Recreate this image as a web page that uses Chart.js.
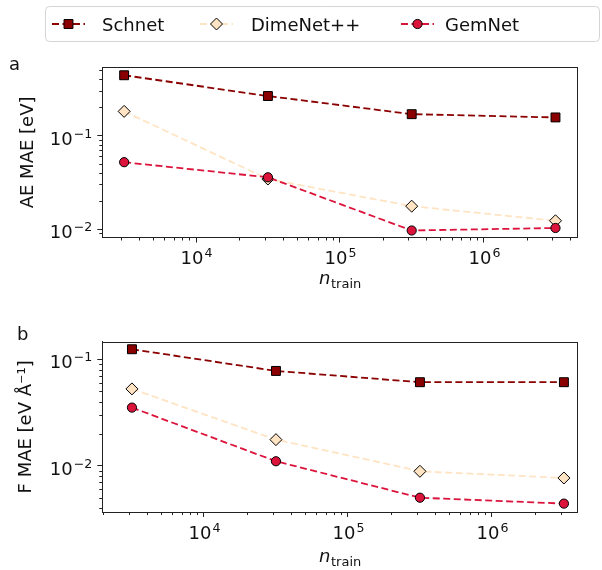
<!DOCTYPE html>
<html>
<head>
<meta charset="utf-8">
<title>MAE vs n_train</title>
<script src="https://cdn.jsdelivr.net/npm/chart.js@4/dist/chart.umd.min.js"></script>
<style>
    body { margin: 0; background: #fff; }
    #wrap { position: relative; width: 602px; height: 570px; }
    #chart-a { position: absolute; left: 0; top: 0; }
    #chart-b { position: absolute; left: 0; top: 300px; }
</style>
</head>
<body>
<div id="wrap">
    <canvas id="chart-a" width="602" height="300"></canvas>
    <canvas id="chart-b" width="602" height="270"></canvas>
</div>
<script>
// training set sizes
const nTrain = [3162, 31623, 316228, 3162278];
const modelNames = ['Schnet', 'DimeNet++', 'GemNet'];

// panel a: AE MAE [eV]
const aeSchnet = [0.44, 0.264, 0.169, 0.156];
const aeDimeNet = [0.181, 0.0343, 0.0176, 0.0123];
const aeGemNet = [0.0519, 0.0358, 0.00968, 0.0103];

// panel b: F MAE [eV/Å]
const fSchnet = [0.124, 0.0776, 0.0608, 0.0608];
const fDimeNet = [0.0526, 0.01755, 0.00885, 0.00766];
const fGemNet = [0.0351, 0.011, 0.0050, 0.0044];

const FONT = 'DejaVu Sans';
const TEXT_COLOR = '#111';

// marker / line look per model
const modelStyles = [
    { color: '#8b0000', fill: '#8b0000', pointStyle: 'rect', radius: 6.3, order: 3 },
    { color: '#ffe4c4', fill: '#ffe4c4', pointStyle: 'rectRot', radius: 6, order: 2 },
    { color: '#dc143c', fill: '#dc143c', pointStyle: 'circle', radius: 4.6, order: 1 }
];

function makeDatasets(seriesList) {
    return seriesList.map((values, i) => {
        const st = modelStyles[i];
        return {
            label: modelNames[i],
            data: nTrain.map((n, j) => ({ x: n, y: values[j] })),
            borderColor: st.color,
            backgroundColor: st.fill,
            borderWidth: 1.8,
            borderDash: [7, 3.5],
            pointStyle: st.pointStyle,
            pointRadius: st.radius,
            pointBackgroundColor: st.fill,
            pointBorderColor: '#000',
            pointBorderWidth: 1,
            tension: 0,
            order: st.order
        };
    });
}

// exponent of a power of ten, or null for the minor ticks
function powerExp(value) {
    const e = Math.round(Math.log10(value));
    if (Math.abs(value - Math.pow(10, e)) / value > 1e-6) return null;
    return e;
}
function expText(e) {
    return e < 0 ? '\u2212' + (-e) : String(e);
}

// all k*10^e ticks inside the axis range, like matplotlib's log locator
function logTicks(scale) {
    const ticks = [];
    const e0 = Math.floor(Math.log10(scale.min));
    const e1 = Math.ceil(Math.log10(scale.max));
    for (let e = e0; e <= e1; e++) {
        for (let k = 1; k < 10; k++) {
            const v = parseFloat((k * Math.pow(10, e)).toPrecision(6));
            if (v >= scale.min && v <= scale.max) ticks.push({ value: v, major: k === 1 });
        }
    }
    scale.ticks = ticks;
}

// frame around the axes, short minor ticks and 10^k tick labels with a real superscript
const frameTicksPlugin = {
    id: 'frameTicks',
    afterDraw(chart) {
        const ctx = chart.ctx;
        const a = chart.chartArea;
        ctx.save();
        ctx.strokeStyle = '#222';
        ctx.lineWidth = 1;
        const baseFont = '18px "' + FONT + '"';
        const supFont = '12.6px "' + FONT + '"';
        ['x', 'y'].forEach(id => {
            const sc = chart.scales[id];
            sc.ticks.forEach(t => {
                const p = Math.round(sc.getPixelForValue(t.value)) + 0.5;
                if (!t.major) {
                    ctx.beginPath();
                    if (id === 'x') {
                        ctx.moveTo(p, a.bottom);
                        ctx.lineTo(p, a.bottom + 3);
                    } else {
                        ctx.moveTo(a.left, p);
                        ctx.lineTo(a.left - 3, p);
                    }
                    ctx.stroke();
                    return;
                }
                const e = powerExp(t.value);
                if (e === null) return;
                const sup = expText(e);
                ctx.fillStyle = TEXT_COLOR;
                ctx.textBaseline = 'alphabetic';
                ctx.textAlign = 'left';
                ctx.font = baseFont;
                const wBase = ctx.measureText('10').width;
                ctx.font = supFont;
                const wSup = ctx.measureText(sup).width;
                let x0, yBase;
                if (id === 'x') {
                    x0 = p - (wBase + wSup + 1) / 2;
                    yBase = a.bottom + 26.5;
                } else {
                    x0 = a.left - 10 - (wBase + wSup + 1);
                    yBase = p + 8.2;
                }
                ctx.font = baseFont;
                ctx.fillText('10', x0, yBase);
                ctx.font = supFont;
                ctx.fillText(sup, x0 + wBase + 1, yBase - 6.8);
            });
        });
        ctx.strokeRect(Math.round(a.left) + 0.5, Math.round(a.top) + 0.5,
            Math.round(a.right - a.left), Math.round(a.bottom - a.top));
        ctx.restore();
    }
};

// panel letter and the n_train axis title (italic n with subscript)
const labelsPlugin = {
    id: 'panelLabels',
    afterDraw(chart, args, opts) {
        const ctx = chart.ctx;
        const a = chart.chartArea;
        ctx.save();
        ctx.fillStyle = TEXT_COLOR;
        ctx.textBaseline = 'alphabetic';
        ctx.font = '18px "' + FONT + '"';
        ctx.textAlign = 'left';
        ctx.fillText(opts.letter, opts.letterX, opts.letterY);

        const nFont = 'italic 18px "' + FONT + '"';
        const subFont = '13px "' + FONT + '"';
        ctx.font = nFont;
        const wN = ctx.measureText('n').width;
        ctx.font = subFont;
        const wSub = ctx.measureText('train').width;
        const x0 = (a.left + a.right) / 2 - (wN + wSub) / 2;
        const yBase = a.bottom + opts.titleOffset;
        ctx.font = nFont;
        ctx.fillText('n', x0, yBase);
        ctx.font = subFont;
        ctx.fillText('train', x0 + wN + 0.5, yBase + 4);
        ctx.restore();
    }
};

// matplotlib-style legend box at the top of the figure
const legendPlugin = {
    id: 'boxLegend',
    afterDraw(chart, args, opts) {
        if (!opts.show) return;
        const ctx = chart.ctx;
        const handleX = [52, 200, 401];
        const textX = [102, 251, 445];
        const cy = 24;
        ctx.save();
        // frame
        const bx = 45.5, by = 6.5, bw = 554, bh = 35, r = 4;
        ctx.beginPath();
        ctx.moveTo(bx + r, by);
        ctx.lineTo(bx + bw - r, by);
        ctx.quadraticCurveTo(bx + bw, by, bx + bw, by + r);
        ctx.lineTo(bx + bw, by + bh - r);
        ctx.quadraticCurveTo(bx + bw, by + bh, bx + bw - r, by + bh);
        ctx.lineTo(bx + r, by + bh);
        ctx.quadraticCurveTo(bx, by + bh, bx, by + bh - r);
        ctx.lineTo(bx, by + r);
        ctx.quadraticCurveTo(bx, by, bx + r, by);
        ctx.fillStyle = '#fff';
        ctx.fill();
        ctx.strokeStyle = '#d4d4d4';
        ctx.lineWidth = 1;
        ctx.stroke();

        chart.data.datasets.forEach((ds, i) => {
            const x0 = handleX[i];
            const x1 = x0 + 33;
            ctx.setLineDash(ds.borderDash);
            ctx.strokeStyle = ds.borderColor;
            ctx.lineWidth = ds.borderWidth;
            ctx.beginPath();
            ctx.moveTo(x0, cy);
            ctx.lineTo(x1, cy);
            ctx.stroke();
            ctx.setLineDash([]);

            const mx = (x0 + x1) / 2;
            const rad = ds.pointRadius;
            ctx.fillStyle = ds.pointBackgroundColor;
            ctx.strokeStyle = ds.pointBorderColor;
            ctx.lineWidth = ds.pointBorderWidth;
            ctx.beginPath();
            if (ds.pointStyle === 'rect') {
                const s = rad * Math.SQRT1_2;
                ctx.rect(mx - s, cy - s, 2 * s, 2 * s);
            } else if (ds.pointStyle === 'rectRot') {
                ctx.moveTo(mx, cy - rad);
                ctx.lineTo(mx + rad, cy);
                ctx.lineTo(mx, cy + rad);
                ctx.lineTo(mx - rad, cy);
                ctx.closePath();
            } else {
                ctx.arc(mx, cy, rad, 0, Math.PI * 2);
            }
            ctx.fill();
            ctx.stroke();

            ctx.fillStyle = TEXT_COLOR;
            ctx.font = '18px "' + FONT + '"';
            ctx.textBaseline = 'alphabetic';
            ctx.textAlign = 'left';
            ctx.fillText(ds.label, textX[i], cy + 6.5);
        });
        ctx.restore();
    }
};

function makeChart(canvasId, seriesList, cfg) {
    const el = document.getElementById(canvasId).getContext('2d');
    const tickColor = (c) => (c.tick && c.tick.major ? '#222' : 'rgba(0,0,0,0)');
    return new Chart(el, {
        type: 'line',
        data: { datasets: makeDatasets(seriesList) },
        options: {
            responsive: false,
            animation: false,
            layout: { padding: { left: 0, top: cfg.padTop, right: 24.5, bottom: 0 } },
            plugins: {
                legend: { display: false },
                tooltip: { enabled: false },
                boxLegend: { show: cfg.legend },
                panelLabels: { letter: cfg.letter, letterX: cfg.letterX, letterY: cfg.letterY, titleOffset: cfg.titleOffset }
            },
            scales: {
                x: {
                    type: 'logarithmic',
                    min: cfg.xMin,
                    max: cfg.xMax,
                    afterBuildTicks: logTicks,
                    afterFit: (scale) => { scale.height = cfg.xAxisHeight; },
                    border: { display: true, color: '#222', width: 1 },
                    grid: { drawOnChartArea: false, drawTicks: true, tickLength: 5, tickColor: tickColor },
                    // labels are drawn by frameTicksPlugin (needs a proper superscript)
                    ticks: { display: false, autoSkip: false, maxRotation: 0 }
                },
                y: {
                    type: 'logarithmic',
                    min: cfg.yMin,
                    max: cfg.yMax,
                    afterBuildTicks: logTicks,
                    afterFit: (scale) => { scale.width = 102.3; },
                    border: { display: true, color: '#222', width: 1 },
                    grid: { drawOnChartArea: false, drawTicks: true, tickLength: 5, tickColor: tickColor },
                    title: {
                        display: true,
                        text: cfg.yTitle,
                        color: TEXT_COLOR,
                        font: { family: FONT, size: 18 },
                        padding: { top: cfg.yTitlePad, bottom: 0 }
                    },
                    ticks: { display: false, autoSkip: false }
                }
            }
        },
        plugins: [frameTicksPlugin, labelsPlugin, legendPlugin]
    });
}

// panel a
makeChart('chart-a', [aeSchnet, aeDimeNet, aeGemNet], {
    padTop: 67.3, xAxisHeight: 62.5,
    xMin: 2229, xMax: 4.5e6, yMin: 0.00815, yMax: 0.535,
    yTitle: 'AE MAE [eV]', yTitlePad: 18,
    letter: 'a', letterX: 9, letterY: 70, titleOffset: 46, legend: true
});

// panel b
makeChart('chart-b', [fSchnet, fDimeNet, fGemNet], {
    padTop: 41.7, xAxisHeight: 58,
    xMin: 1968, xMax: 3.93e6, yMin: 0.00367, yMax: 0.146,
    yTitle: 'F MAE [eV Å⁻¹]', yTitlePad: 16,
    letter: 'b', letterX: 17, letterY: 40, titleOffset: 50, legend: false
});
</script>
</body>
</html>
